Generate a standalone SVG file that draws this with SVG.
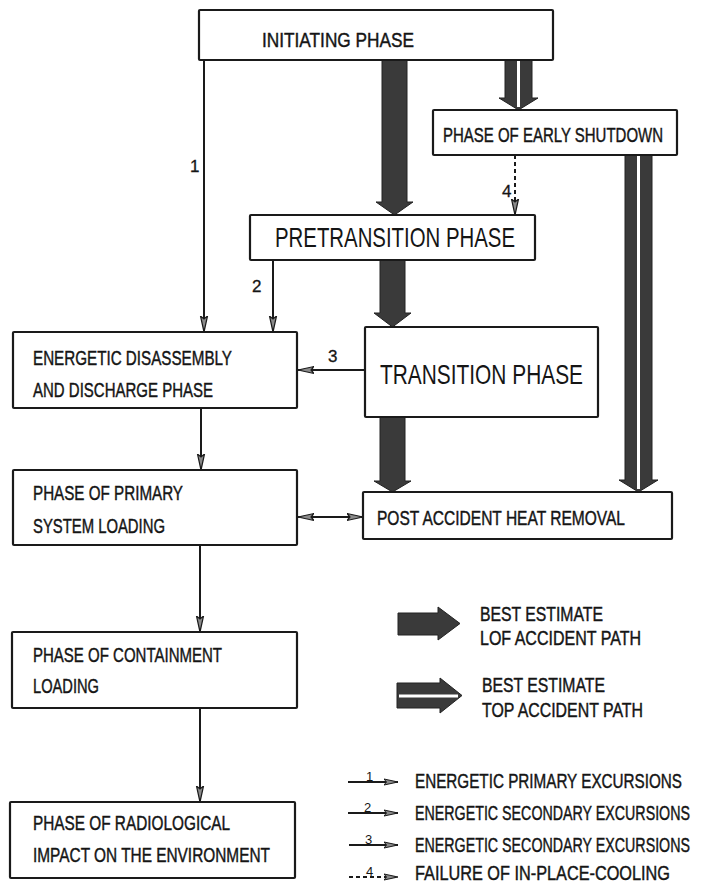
<svg xmlns="http://www.w3.org/2000/svg" width="701" height="885" viewBox="0 0 701 885">
<defs>
<style>
.box{fill:#fff;stroke:#1a1a1a;stroke-width:2.2}
.t{font-family:"Liberation Sans",Arial,sans-serif;font-size:14px;fill:#151515;stroke:#151515;stroke-width:0.3}
.tb{font-family:"Liberation Sans",Arial,sans-serif;font-size:19.5px;fill:#151515}
.n{font-family:"Liberation Sans",Arial,sans-serif;font-size:17px;fill:#151515;stroke:#151515;stroke-width:0.3}
.ns{font-family:"Liberation Sans",Arial,sans-serif;font-size:13px;fill:#151515}
.ln{fill:none;stroke:#1a1a1a;stroke-width:2}
.dash{fill:none;stroke:#1a1a1a;stroke-width:2;stroke-dasharray:4 3}
.lof{fill:#3a3a3a;stroke:#222;stroke-width:1}
.gap{stroke:#fff;stroke-width:3;fill:none}
</style>
<marker id="ah" markerUnits="userSpaceOnUse" markerWidth="18" markerHeight="10" refX="16" refY="5" orient="auto-start-reverse">
<path d="M0,1.5 L16,5 L0,8.5 L3,5 Z" fill="#8a8a8a" stroke="#1a1a1a" stroke-width="1.2"/>
</marker>
<marker id="ahs" markerUnits="userSpaceOnUse" markerWidth="16" markerHeight="8" refX="14" refY="4" orient="auto">
<path d="M0,1 L14,4 L0,7 L2.5,4 Z" fill="#8a8a8a" stroke="#1a1a1a" stroke-width="1"/>
</marker>
</defs>

<g id="connectors">
<path class="lof" d="M382,60 L407,60 L407,202 L413,202 L394.5,215 L376,202 L382,202 Z"/>
<path class="lof" d="M380,260 L405,260 L405,313 L411,313 L392.5,327 L374,313 L380,313 Z"/>
<path class="lof" d="M380,417 L405,417 L405,481 L411,481 L392.5,492 L374,481 L380,481 Z"/>
<path class="lof" d="M505,60 L532,60 L532,98 L538,98 L518.5,110 L499,98 L505,98 Z"/>
<line class="gap" x1="518.5" y1="60" x2="518.5" y2="107"/>
<path class="lof" d="M625,155 L652,155 L652,480 L658,480 L638.5,492 L619,480 L625,480 Z"/>
<line class="gap" x1="638.5" y1="155" x2="638.5" y2="489"/>
<line class="ln" x1="204" y1="60" x2="204" y2="332" marker-end="url(#ah)"/>
<line class="ln" x1="273" y1="260" x2="273" y2="332" marker-end="url(#ah)"/>
<line class="ln" x1="365" y1="370" x2="298" y2="370" marker-end="url(#ah)"/>
<line class="dash" x1="515" y1="155" x2="515" y2="215" marker-end="url(#ah)"/>
<line class="ln" x1="201" y1="408" x2="201" y2="470" marker-end="url(#ah)"/>
<line class="ln" x1="298" y1="517" x2="363" y2="517" marker-start="url(#ah)" marker-end="url(#ah)"/>
<line class="ln" x1="200" y1="545" x2="200" y2="632" marker-end="url(#ah)"/>
<line class="ln" x1="200" y1="708" x2="200" y2="802" marker-end="url(#ah)"/>
<text class="n" x="190" y="172">1</text>
<text class="n" x="252" y="292">2</text>
<text class="n" x="328" y="362">3</text>
<text class="n" x="502" y="197">4</text>
</g>

<g id="initiating">
<rect class="box" x="199" y="10" width="354" height="50" rx="1"/>
<text class="t" transform="translate(262,47) scale(1,1.45)" textLength="152" lengthAdjust="spacingAndGlyphs">INITIATING PHASE</text>
</g>
<g id="early-shutdown">
<rect class="box" x="433" y="110" width="244" height="45" rx="1"/>
<text class="t" transform="translate(443,142) scale(1,1.45)" textLength="220" lengthAdjust="spacingAndGlyphs">PHASE OF EARLY SHUTDOWN</text>
</g>
<g id="pretransition">
<rect class="box" x="250" y="215" width="285" height="45" rx="1"/>
<text class="tb" transform="translate(275,247) scale(1,1.45)" textLength="240" lengthAdjust="spacingAndGlyphs">PRETRANSITION PHASE</text>
</g>
<g id="transition">
<rect class="box" x="365" y="327" width="233" height="90" rx="1"/>
<text class="tb" transform="translate(380,384) scale(1,1.45)" textLength="203" lengthAdjust="spacingAndGlyphs">TRANSITION PHASE</text>
</g>
<g id="energetic">
<rect class="box" x="13" y="332" width="284" height="76" rx="1"/>
<text class="t" transform="translate(33,365) scale(1,1.45)" textLength="199" lengthAdjust="spacingAndGlyphs">ENERGETIC DISASSEMBLY</text>
<text class="t" transform="translate(33,397) scale(1,1.45)" textLength="180" lengthAdjust="spacingAndGlyphs">AND DISCHARGE PHASE</text>
</g>
<g id="primary">
<rect class="box" x="13" y="470" width="284" height="75" rx="1"/>
<text class="t" transform="translate(33,500) scale(1,1.45)" textLength="150" lengthAdjust="spacingAndGlyphs">PHASE OF PRIMARY</text>
<text class="t" transform="translate(33,533) scale(1,1.45)" textLength="132" lengthAdjust="spacingAndGlyphs">SYSTEM LOADING</text>
</g>
<g id="post-accident">
<rect class="box" x="363" y="492" width="309" height="47" rx="1"/>
<text class="t" transform="translate(377,525) scale(1,1.45)" textLength="248" lengthAdjust="spacingAndGlyphs">POST ACCIDENT HEAT REMOVAL</text>
</g>
<g id="containment">
<rect class="box" x="12" y="632" width="285" height="76" rx="1"/>
<text class="t" transform="translate(33,662) scale(1,1.45)" textLength="189" lengthAdjust="spacingAndGlyphs">PHASE OF CONTAINMENT</text>
<text class="t" transform="translate(33,693) scale(1,1.45)" textLength="66" lengthAdjust="spacingAndGlyphs">LOADING</text>
</g>
<g id="radiological">
<rect class="box" x="10" y="802" width="285" height="76" rx="1"/>
<text class="t" transform="translate(33,830) scale(1,1.45)" textLength="197" lengthAdjust="spacingAndGlyphs">PHASE OF RADIOLOGICAL</text>
<text class="t" transform="translate(33,862) scale(1,1.45)" textLength="237" lengthAdjust="spacingAndGlyphs">IMPACT ON THE ENVIRONMENT</text>
</g>

<g id="legend">
<path class="lof" d="M398,613 L438,613 L438,607 L460,623.5 L438,640 L438,635 L398,635 Z"/>
<text class="t" transform="translate(480,621) scale(1,1.45)" textLength="123" lengthAdjust="spacingAndGlyphs">BEST ESTIMATE</text>
<text class="t" transform="translate(480,645) scale(1,1.45)" textLength="161" lengthAdjust="spacingAndGlyphs">LOF ACCIDENT PATH</text>
<path class="lof" d="M397,683 L440,683 L440,678 L462,695.5 L440,713 L440,708 L397,708 Z"/>
<line class="gap" x1="399" y1="696" x2="458" y2="696"/>
<text class="t" transform="translate(482,692) scale(1,1.45)" textLength="123" lengthAdjust="spacingAndGlyphs">BEST ESTIMATE</text>
<text class="t" transform="translate(482,717) scale(1,1.45)" textLength="161" lengthAdjust="spacingAndGlyphs">TOP ACCIDENT PATH</text>

<line class="ln" x1="348" y1="782" x2="398" y2="782" marker-end="url(#ahs)"/>
<text class="ns" x="366" y="781">1</text>
<text class="t" transform="translate(415,788) scale(1,1.45)" textLength="267" lengthAdjust="spacingAndGlyphs">ENERGETIC PRIMARY EXCURSIONS</text>
<line class="ln" x1="348" y1="813" x2="398" y2="813" marker-end="url(#ahs)"/>
<text class="ns" x="364" y="812">2</text>
<text class="t" transform="translate(415,820) scale(1,1.45)" textLength="275" lengthAdjust="spacingAndGlyphs">ENERGETIC SECONDARY EXCURSIONS</text>
<line class="ln" x1="349" y1="845" x2="398" y2="845" marker-end="url(#ahs)"/>
<text class="ns" x="365" y="844">3</text>
<text class="t" transform="translate(415,852) scale(1,1.45)" textLength="275" lengthAdjust="spacingAndGlyphs">ENERGETIC SECONDARY EXCURSIONS</text>
<line class="dash" x1="349" y1="877" x2="398" y2="877" marker-end="url(#ahs)"/>
<text class="ns" x="366" y="876">4</text>
<text class="t" transform="translate(415,880) scale(1,1.45)" textLength="255" lengthAdjust="spacingAndGlyphs">FAILURE OF IN-PLACE-COOLING</text>
</g>
</svg>
